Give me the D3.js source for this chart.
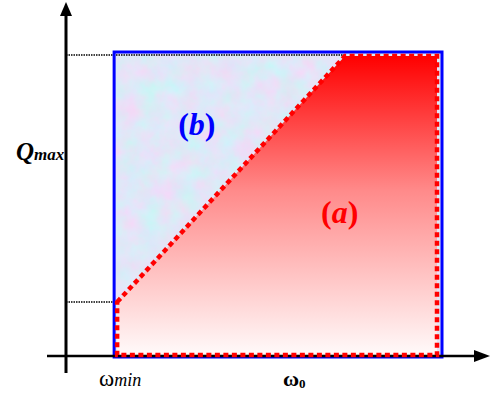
<!DOCTYPE html>
<html>
<head>
<meta charset="utf-8">
<script src="https://cdn.jsdelivr.net/npm/d3@7"></script>
<style>
  html, body { margin: 0; padding: 0; background: #fff; }
  svg { display: block; }
</style>
</head>
<body>
<div id="chart"></div>
<script>
// chart values (normalised units: omega axis 0..1, Q axis 0..1)
const omegaMarks = [0.128, 0.742, 1.0];   // omega_min, knee, omega_max
const qMarks = [0.178, 1.0];              // Q at omega_min, Q_max
const regionLabels = ["(b)", "(a)"];

const width = 492;
const height = 395;
const serif = "Liberation Serif";

const svg = d3.select("#chart")
  .append("svg")
  .attr("width", width)
  .attr("height", height);

// scales: origin of the axes sits at (66, 356)
const x = d3.scaleLinear().domain([0, 1]).range([66, 442]);
const y = d3.scaleLinear().domain([0, 1]).range([356, 53]);

const defs = svg.append("defs");

// pale mottled blue texture for region (b)
const tex = defs.append("filter")
  .attr("id", "mottle")
  .attr("filterUnits", "userSpaceOnUse")
  .attr("x", x(omegaMarks[0])).attr("y", y(qMarks[1]))
  .attr("width", x(omegaMarks[2]) - x(omegaMarks[0]))
  .attr("height", y(0) - y(qMarks[1]));
tex.append("feTurbulence")
  .attr("type", "fractalNoise")
  .attr("baseFrequency", 0.05)
  .attr("numOctaves", 4)
  .attr("seed", 3)
  .attr("result", "noise");
tex.append("feColorMatrix")
  .attr("in", "noise")
  .attr("type", "matrix")
  .attr("values", [
    "0.35 -0.2 0 0 0.67",
    "-0.2 0.2 0 0 0.80",
    "0 0 0.1 0 0.88",
    "0 0 0 0 1"
  ].join(" "));

// red gradient for region (a)
const grad = defs.append("linearGradient")
  .attr("id", "redfade")
  .attr("x1", 0).attr("y1", 0).attr("x2", 0).attr("y2", 1);
grad.append("stop").attr("offset", "0%").attr("stop-color", "#ff0000");
grad.append("stop").attr("offset", "45%").attr("stop-color", "#ff8a8a");
grad.append("stop").attr("offset", "100%").attr("stop-color", "#fffafa");

const [wMin, wKnee, wMax] = omegaMarks;
const [qLow, qMax] = qMarks;

// region (b): whole box with texture
svg.append("rect")
  .attr("x", x(wMin))
  .attr("y", y(qMax))
  .attr("width", x(wMax) - x(wMin))
  .attr("height", y(0) - y(qMax))
  .attr("filter", "url(#mottle)");

// region (a): polygon under the diagonal
const inset = 3;
const regionA = [
  [x(wMin) + inset, y(qLow)],
  [x(wKnee), y(qMax) + inset],
  [x(wMax) - 5, y(qMax) + inset],
  [x(wMax) - 5, y(0) - 1],
  [x(wMin) + inset, y(0) - 1]
];
svg.append("path")
  .attr("d", d3.line()(regionA) + "Z")
  .attr("fill", "url(#redfade)");

// dotted guide lines
svg.append("line")
  .attr("x1", x(0)).attr("x2", x(wKnee))
  .attr("y1", y(qMax) + 2).attr("y2", y(qMax) + 2)
  .attr("stroke", "#000").attr("stroke-width", 1.5)
  .attr("stroke-dasharray", "1.5 1");
svg.append("line")
  .attr("x1", x(0)).attr("x2", x(wMin) + inset)
  .attr("y1", y(qLow)).attr("y2", y(qLow))
  .attr("stroke", "#000").attr("stroke-width", 1.5)
  .attr("stroke-dasharray", "1.5 1");

// blue border of the box
svg.append("rect")
  .attr("x", x(wMin))
  .attr("y", y(qMax) - 1)
  .attr("width", x(wMax) - x(wMin))
  .attr("height", y(0) - y(qMax) + 2)
  .attr("fill", "none")
  .attr("stroke", "#0000ff")
  .attr("stroke-width", 3);

// axes
svg.append("line")
  .attr("x1", 47).attr("x2", 478)
  .attr("y1", y(0)).attr("y2", y(0))
  .attr("stroke", "#000").attr("stroke-width", 2.5);
svg.append("path")
  .attr("d", `M490,${y(0)} L474,${y(0) - 6} L474,${y(0) + 6} Z`)
  .attr("fill", "#000");
svg.append("line")
  .attr("x1", x(0)).attr("x2", x(0))
  .attr("y1", 373).attr("y2", 16)
  .attr("stroke", "#000").attr("stroke-width", 3);
svg.append("path")
  .attr("d", `M${x(0)},2 L${x(0) - 6},16 L${x(0) + 6},16 Z`)
  .attr("fill", "#000");

// red dotted outline of region (a)
svg.append("path")
  .attr("d", d3.line()(regionA) + "Z")
  .attr("fill", "none")
  .attr("stroke", "#ff0000")
  .attr("stroke-width", 4.5)
  .attr("stroke-dasharray", "5 3.5");

// region labels
const labelPos = [[wMin + 0.22, 0.73], [wMin + 0.60, 0.44]];
const labelColor = ["#0000ff", "#ff0000"];
regionLabels.forEach((s, i) => {
  const t = svg.append("text")
    .attr("x", x(labelPos[i][0]))
    .attr("y", y(labelPos[i][1]))
    .attr("text-anchor", "middle")
    .style("font-family", serif)
    .style("font-size", "32px")
    .style("font-weight", "bold")
    .attr("fill", labelColor[i]);
  t.append("tspan").text(s[0]);
  t.append("tspan").style("font-style", "italic").text(s[1]);
  t.append("tspan").text(s[2]);
});

// axis labels
const qLabel = svg.append("text")
  .attr("x", 16).attr("y", 160)
  .style("font-family", serif)
  .style("font-weight", "bold")
  .style("font-style", "italic");
qLabel.append("tspan").style("font-size", "25px").text("Q");
qLabel.append("tspan").style("font-size", "17px").text("max");

const wMinLabel = svg.append("text")
  .attr("x", 99).attr("y", 386)
  .style("font-family", serif);
wMinLabel.append("tspan").style("font-size", "23px").text("ω");
wMinLabel.append("tspan").style("font-size", "18px").style("font-style", "italic").text("min");

const w0Label = svg.append("text")
  .attr("x", 283).attr("y", 386)
  .style("font-family", serif)
  .style("font-weight", "bold");
w0Label.append("tspan").style("font-size", "22px").text("ω");
w0Label.append("tspan").style("font-size", "13px").attr("dy", 2).text("0");
</script>
</body>
</html>
